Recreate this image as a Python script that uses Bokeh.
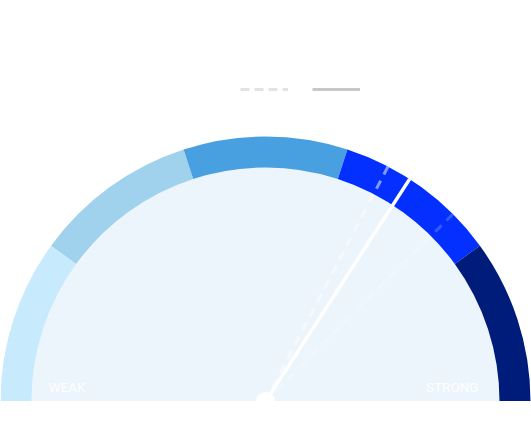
import math
from bokeh.plotting import figure
from bokeh.models import Range1d, Legend, LegendItem
from bokeh.core.properties import value
from bokeh.embed import file_html
from bokeh.resources import INLINE

# ---- data ----
band_edges = [0, 20, 40, 60, 80, 100]
band_colors = ["#c8eafd", "#a0d2ee", "#49a0e0", "#0330ff", "#001c7a"]
needle_value = 68.3
marker_values = [65.3, 75.0]
marker_alphas = [0.5, 0.2]
end_labels = ["WEAK", "STRONG"]
legend_labels = ["\u00a0", "\u00a0"]

OUTER_R = 265
INNER_R = 234
NAN = float("nan")


def ang(v):
    return math.pi * (1 - v / 100.0)


p = figure(width=531, height=401, output_backend="svg", toolbar_location=None,
           x_range=Range1d(-265, 266), y_range=Range1d(0, 401),
           min_border=0, background_fill_color="white", border_fill_color="white",
           outline_line_color=None)
p.axis.visible = False
p.grid.visible = False

# inner face
p.wedge(x=0, y=0, radius=INNER_R, start_angle=0, end_angle=math.pi,
        fill_color="#edf5fc", line_color=None)

# bands
starts = [ang(b) for b in band_edges[1:]]
ends = [ang(a) for a in band_edges[:-1]]
p.annular_wedge(x=0, y=0, inner_radius=INNER_R, outer_radius=OUTER_R,
                start_angle=starts, end_angle=ends, fill_color=band_colors,
                line_color=None)

# dashed markers
for v, a in zip(marker_values, marker_alphas):
    p.ray(x=0, y=0, length=OUTER_R, angle=ang(v), line_color="white",
          line_width=3, line_alpha=a, line_dash="9 7")

# needle
p.ray(x=0, y=0, length=OUTER_R, angle=ang(needle_value), line_color="white",
      line_width=3.5)
p.scatter(x=[0], y=[0], size=19, fill_color="white", line_color=None)

# end labels
p.text(x=[-INNER_R + 17], y=[15], text=[end_labels[0]], text_color="white",
       text_font=value("Roboto"), text_font_size="13.5px",
       text_align="left", text_baseline="middle")
p.text(x=[INNER_R - 21], y=[15], text=[end_labels[1]], text_color="white",
       text_font=value("Roboto"), text_font_size="13.5px",
       text_align="right", text_baseline="middle")

# legend
r1 = p.line(x=[NAN], y=[NAN], line_color="#e3e3e3", line_width=3, line_dash="9 5")
r2 = p.line(x=[NAN], y=[NAN], line_color="#c8c8c8", line_width=3)
legend = Legend(items=[LegendItem(label=value(legend_labels[0]), renderers=[r1]),
                       LegendItem(label=value(legend_labels[1]), renderers=[r2])],
                orientation="horizontal", location=(240, 307),
                glyph_width=48, glyph_height=10, label_width=0, label_height=10,
                label_standoff=0, spacing=22, padding=0, margin=0,
                label_text_font_size="8px", label_text_color="white",
                border_line_color=None, background_fill_alpha=0)
p.add_layout(legend, "center")

open("out.html", "w").write(file_html(p, INLINE))
